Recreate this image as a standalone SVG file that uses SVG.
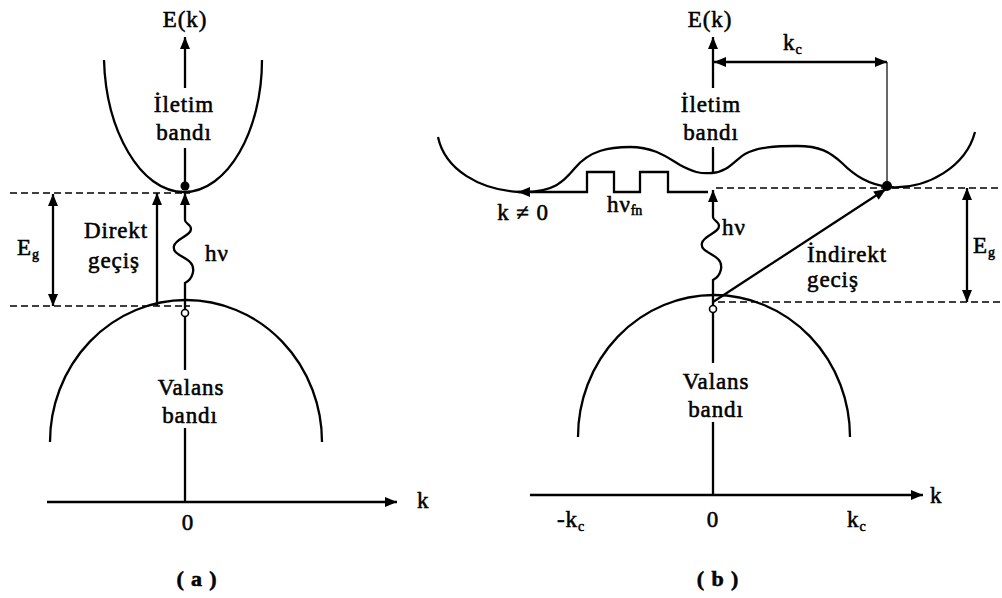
<svg xmlns="http://www.w3.org/2000/svg" width="1002" height="598" viewBox="0 0 1002 598">
<defs>
<marker id="ah" viewBox="0 0 12 10" refX="12" refY="5" markerWidth="13" markerHeight="10" orient="auto-start-reverse" markerUnits="userSpaceOnUse"><path d="M0,0 L12,5 L0,10 z" fill="#000"/></marker>
<style>
.ln{stroke:#000;stroke-width:2.3;fill:none}
.th{stroke:#000;stroke-width:1.2;fill:none}
.ds{stroke:#000;stroke-width:1.6;fill:none;stroke-dasharray:7 4}
.cv{stroke:#000;stroke-width:2.3;fill:none}
text{font-family:"Liberation Serif","Times New Roman",serif;font-size:23px;fill:#000;stroke:#000;stroke-width:0.55;letter-spacing:0.9px}
.m{text-anchor:middle}
.sub{font-size:14px;letter-spacing:0}
.cap{font-weight:bold;font-size:22px}
</style>
</defs>
<rect width="1002" height="598" fill="#fff"/>

<g id="panel-a-curves">
<path id="a-conduction" class="cv" d="M104,60 C106,130 140,192 184,192 C228,192 262,130 262,60"/>
<path id="a-valence" class="cv" d="M50,442 A136,142 0 0 1 322,442"/>
</g>

<g id="connectors">
<!-- panel a -->
<line class="ln" x1="185" y1="88" x2="185" y2="37" marker-end="url(#ah)"/>
<line class="ln" x1="185" y1="148" x2="185" y2="182"/>
<line class="ln" x1="185" y1="316" x2="185" y2="370"/>
<line class="ln" x1="185" y1="428" x2="185" y2="502"/>
<line class="ln" x1="47" y1="502" x2="397" y2="502" marker-end="url(#ah)"/>
<line class="ds" x1="10" y1="193" x2="190" y2="193"/>
<line class="ds" x1="10" y1="306" x2="190" y2="306"/>
<line class="ln" x1="53" y1="194" x2="53" y2="306" marker-start="url(#ah)" marker-end="url(#ah)"/>
<line class="ln" x1="157" y1="306" x2="157" y2="193" marker-end="url(#ah)"/>
<path class="ln" d="M185,310 L185,283 C193,279 196,268 190,262 C184,256 172,254 174,246 C176,238 191,236 191,229 C191,224 185,224 185,220 L185,193" marker-end="url(#ah)"/>
<!-- panel b -->
<line class="ln" x1="713" y1="88" x2="713" y2="37" marker-end="url(#ah)"/>
<line class="ln" x1="713" y1="147" x2="713" y2="173"/>
<line class="ln" x1="713" y1="313" x2="713" y2="363"/>
<line class="ln" x1="713" y1="422" x2="713" y2="495"/>
<line class="ln" x1="530" y1="495" x2="923" y2="495" marker-end="url(#ah)"/>
<line class="ln" x1="714" y1="62" x2="887" y2="62" marker-start="url(#ah)" marker-end="url(#ah)"/>
<line class="th" x1="887" y1="62" x2="887" y2="182"/>
<line class="ds" x1="716" y1="188" x2="1002" y2="188"/>
<line class="ds" x1="718" y1="302" x2="1002" y2="302"/>
<line class="ln" x1="967" y1="188" x2="967" y2="302" marker-start="url(#ah)" marker-end="url(#ah)"/>
<line class="ln" x1="713" y1="302" x2="886" y2="189" stroke-width="2.8" marker-end="url(#ah)"/>
<path class="ln" d="M713,306 L713,280 C721,276 724,265 718,259 C712,253 700,251 702,243 C704,235 719,233 719,226 C719,221 713,221 713,217 L713,190" marker-end="url(#ah)"/>
<path class="ln" d="M708,192 L668,192 L668,172 L640,172 L640,192 L614,192 L614,172 L587,172 L587,192 L518,192" marker-end="url(#ah)"/>
</g>

<g id="panel-b-curves">
<path id="b-conduction" class="cv" d="M438,137 C445,170 480,190 520,192 C555,193 565,180 575,168 C590,150 610,147 630,147 C655,147 668,158 680,165 C693,172 700,174 712,173 C728,172 735,160 745,154 C758,147 775,146 797,146 C820,146 830,152 842,163 C855,176 868,184 888,187 C928,190 966,166 975,132"/>
<path id="b-valence" class="cv" d="M578,437 A136,142 0 0 1 850,437"/>
</g>

<g id="states">
<circle id="a-electron" cx="185" cy="186" r="4.5" fill="#000"/>
<circle id="a-hole" cx="185" cy="313" r="3.5" fill="#fff" stroke="#000" stroke-width="1.6"/>
<circle id="b-electron" cx="887" cy="186" r="5" fill="#000"/>
<circle id="b-hole" cx="713" cy="309" r="3.5" fill="#fff" stroke="#000" stroke-width="1.6"/>
</g>

<g id="labels-a">
<text class="m" x="185" y="27">E(k)</text>
<text class="m" x="184" y="112">İletim</text>
<text class="m" x="184" y="140">bandı</text>
<text class="m" x="116" y="238">Direkt</text>
<text class="m" x="114" y="268">geçiş</text>
<text x="17" y="255">E<tspan class="sub" dy="4">g</tspan></text>
<text x="205" y="261">hν</text>
<text class="m" x="191" y="395">Valans</text>
<text class="m" x="190" y="423">bandı</text>
<text class="m" x="188" y="530">0</text>
<text x="417" y="508">k</text>
<text class="m cap" x="197" y="586">( a )</text>
</g>

<g id="labels-b">
<text class="m" x="710" y="27">E(k)</text>
<text x="783" y="50">k<tspan class="sub" dy="4">c</tspan></text>
<text class="m" x="711" y="112">İletim</text>
<text class="m" x="711" y="140">bandı</text>
<text class="m" x="523" y="220">k ≠ 0</text>
<text x="607" y="212">hν<tspan class="sub" dy="3">fn</tspan></text>
<text x="722" y="235">hν</text>
<text x="807" y="262">İndirekt</text>
<text x="807" y="287">geciş</text>
<text x="973" y="253">E<tspan class="sub" dy="4">g</tspan></text>
<text class="m" x="716" y="389">Valans</text>
<text class="m" x="716" y="417">bandı</text>
<text x="557" y="527">-k<tspan class="sub" dy="4">c</tspan></text>
<text class="m" x="713" y="527">0</text>
<text x="847" y="527">k<tspan class="sub" dy="4">c</tspan></text>
<text x="930" y="503">k</text>
<text class="m cap" x="718" y="586">( b )</text>
</g>
</svg>
